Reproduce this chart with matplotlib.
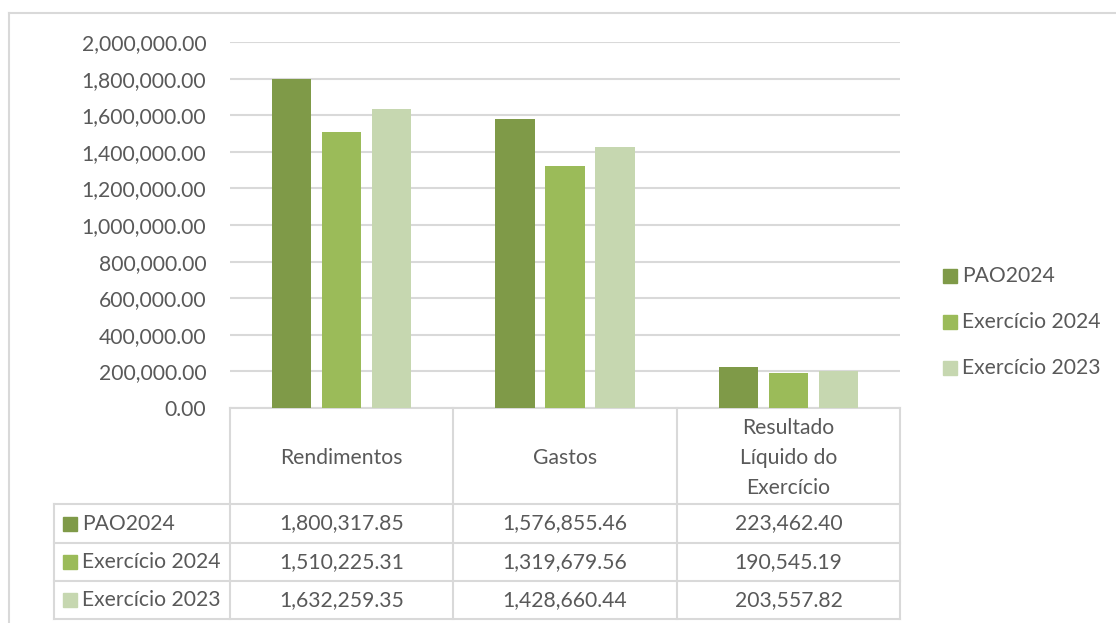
import matplotlib.pyplot as plt
from matplotlib.patches import Rectangle
import numpy as np

plt.rcParams['font.family'] = ['Lato', 'DejaVu Sans']

categories = ["Rendimentos", "Gastos", "Resultado\nLíquido do\nExercício"]
series = ["PAO2024", "Exercício 2024", "Exercício 2023"]
pao2024 = [1800317.85, 1576855.46, 223462.40]
exercicio2024 = [1510225.31, 1319679.56, 190545.19]
exercicio2023 = [1632259.35, 1428660.44, 203557.82]
colors = ["#7f9a48", "#9bbb59", "#c6d7b0"]

values = [pao2024, exercicio2024, exercicio2023]

W, H = 1116, 623
fig = plt.figure(figsize=(W / 100, H / 100), dpi=100)

# pixel-space overlay for the frame, data table and legend
over = fig.add_axes([0, 0, 1, 1], zorder=0)
over.set_xlim(0, W)
over.set_ylim(H, 0)
over.axis("off")

grid_c = "#d9d9d9"
text_c = "#595959"
fs = 15.2

# chart frame (top and left edges)
over.plot([9, 1115], [13, 13], color=grid_c, lw=1.5)
over.plot([9, 9], [13, H], color=grid_c, lw=1.5)

# plot area
x0, x1, y_top, y_bot = 230, 900, 42, 408
ax = fig.add_axes([x0 / W, 1 - y_bot / H, (x1 - x0) / W, (y_bot - y_top) / H], zorder=1)
ax.patch.set_alpha(0)

n = len(categories)
bw = 0.175
gap = 0.049
x = np.arange(n)
offsets = [-(bw + gap), 0, bw + gap]
for vals, c, off, name in zip(values, colors, offsets, series):
    ax.bar(x + off, vals, width=bw, color=c, label=name, zorder=3)

ax.set_xlim(-0.5, n - 0.5)
ax.set_ylim(0, 2000000)
ax.set_yticks(np.arange(0, 2000001, 200000))
ax.set_yticklabels([f"{v:,.2f}" for v in np.arange(0, 2000001, 200000)],
                   fontsize=fs, color=text_c)
ax.set_xticks([])
ax.tick_params(axis="y", length=0, pad=17)
ax.grid(axis="y", color=grid_c, lw=1.5, zorder=0)
for s in ["top", "right", "left"]:
    ax.spines[s].set_visible(False)
ax.spines["bottom"].set_color(grid_c)
ax.spines["bottom"].set_linewidth(1.5)

# data table under the axis
col_edges = [230, 453, 677, 900]
row_edges = [408, 504, 543, 581, 619]
label_left = 54
for xe in col_edges:
    over.plot([xe, xe], [row_edges[0], row_edges[-1]], color=grid_c, lw=1.5)
over.plot([label_left, label_left], [row_edges[1], row_edges[-1]], color=grid_c, lw=1.5)
for ye in row_edges[1:]:
    over.plot([label_left, col_edges[-1]], [ye, ye], color=grid_c, lw=1.5)

for i, cat in enumerate(categories):
    cx = (col_edges[i] + col_edges[i + 1]) / 2
    over.text(cx, (row_edges[0] + row_edges[1]) / 2 + 2, cat, ha="center", va="center",
              fontsize=fs, color=text_c, linespacing=1.65)

for r, (name, vals, c) in enumerate(zip(series, values, colors)):
    cy = (row_edges[r + 1] + row_edges[r + 2]) / 2
    over.add_patch(Rectangle((63, cy - 7), 14, 14, color=c))
    over.text(82, cy, name, ha="left", va="center", fontsize=fs, color=text_c)
    for i, v in enumerate(vals):
        cx = (col_edges[i] + col_edges[i + 1]) / 2
        over.text(cx, cy, f"{v:,.2f}", ha="center", va="center", fontsize=fs, color=text_c)

# legend on the right
for name, c, ly in zip(series, colors, [276, 322, 368]):
    over.add_patch(Rectangle((943, ly - 7), 14, 14, color=c))
    over.text(962, ly, name, ha="left", va="center", fontsize=fs, color=text_c)

fig.savefig("out.png", dpi=100)
